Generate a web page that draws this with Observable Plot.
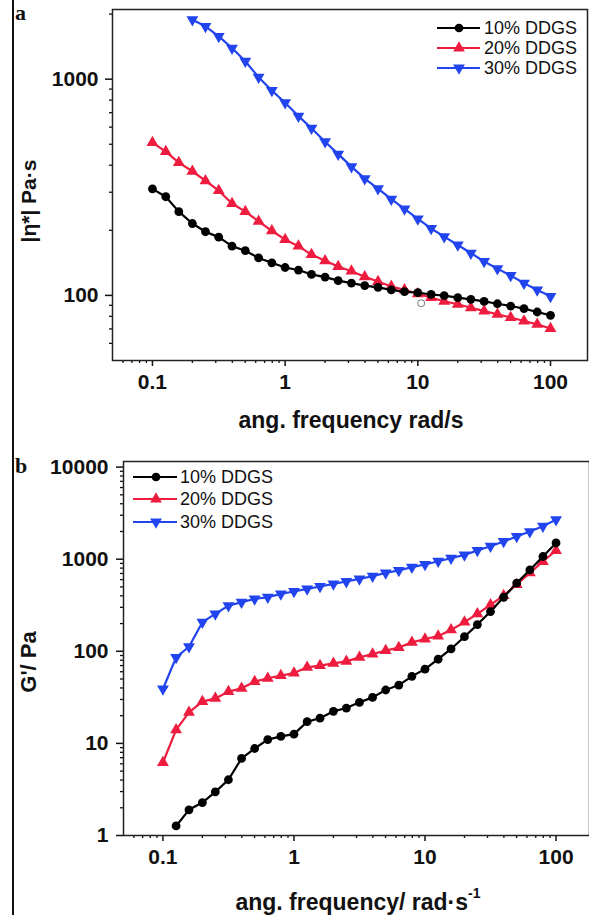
<!DOCTYPE html>
<html>
<head>
<meta charset="utf-8">
<script src="https://cdn.jsdelivr.net/npm/d3@7"></script>
<script src="https://cdn.jsdelivr.net/npm/@observablehq/plot@0.6"></script>
<style>
  body { margin: 0; background: #fff; }
  #wrap { position: relative; width: 589px; height: 915px; overflow: hidden; background: #fff; }
  #wrap svg.plot-svg { display: block; }
  #overlay { position: absolute; left: 0; top: 0; pointer-events: none; }
</style>
</head>
<body>
<div id="wrap"></div>
<script>
// ---------- data ----------
const freq = [0.1, 0.126, 0.158, 0.2, 0.251, 0.316, 0.398, 0.501, 0.631, 0.794,
              1, 1.26, 1.58, 2, 2.51, 3.16, 3.98, 5.01, 6.31, 7.94,
              10, 12.6, 15.8, 20, 25.1, 31.6, 39.8, 50.1, 63.1, 79.4, 100];
const seriesNames = ["10% DDGS", "20% DDGS", "30% DDGS"];
const seriesColors = ["#000000", "#ee1c3e", "#2244ee"];

// panel a: |eta*| (Pa·s)
const etaA10 = [311, 286, 244, 215, 197, 186, 169, 161, 149, 141.5,
                134.6, 131, 125, 121.5, 117, 114, 111, 109, 106, 104,
                103, 101, 99.7, 97.6, 95.9, 93.8, 91.5, 89.3, 86.9, 83.8, 80.9];
const etaA20 = [509, 462, 411, 375, 339, 305, 266, 244, 220, 199,
                181, 169, 154.5, 144.5, 136, 129.4, 122, 116, 110, 106,
                101.8, 97.6, 94, 91, 87.7, 84.6, 81.8, 79, 76.1, 73.5, 70.3];
const etaA30 = [null, null, null, 1884, 1755, 1578, 1393, 1210, 1021, 887,
                778, 675, 593, 514, 450, 394, 347, 312, 279, 251,
                226, 204, 187, 171, 157, 143.5, 133, 123.6, 114, 106, 99];
const strayPoint = [{f: 10.6, v: 92}];

// panel b: G' (Pa)
const gB10 = [null, 1.27, 1.9, 2.28, 2.98, 4.03, 6.87, 8.8, 11, 11.9,
              12.6, 17.2, 18.8, 22.3, 24.2, 27.9, 31.6, 38, 43, 53.5,
              64, 82, 106, 144, 195, 270, 386, 550, 765, 1070, 1500];
const gB20 = [6.2, 14, 21.7, 28.4, 30.8, 36.5, 39.6, 46.8, 51, 54.4,
              58, 67, 70, 74, 77.8, 86, 93.5, 101.7, 110, 125,
              136, 146, 171, 207, 255, 319, 403, 531, 710, 944, 1242];
const gB30 = [39, 86, 112, 207, 255, 313, 341, 371, 386, 420,
              446, 476, 505, 540, 572, 611, 653, 710, 754, 819,
              876, 951, 1025, 1114, 1242, 1384, 1556, 1763, 1995, 2278, 2690];

// ticks
const xTicks = [0.1, 1, 10, 100];
const xTickLabels = ["0.1", "1", "10", "100"];
const yTicksA = [100, 1000];
const yTickLabelsA = ["100", "1000"];
const yTicksB = [1, 10, 100, 1000, 10000];
const yTickLabelsB = ["1", "10", "100", "1000", "10000"];

// text
const panelLetters = ["a", "b"];
const yTitleA = "|\u03B7*| Pa\u00B7s";
const xTitleA = "ang. frequency rad/s";
const yTitleB = "G'/ Pa";
const xTitleB = "ang. frequency/ rad\u00B7s";
const xTitleBSup = "-1";

// ---------- helpers ----------
const rows = vals => freq.map((f, i) => ({f, v: vals[i]})).filter(d => d.v != null);
function minorTicks(lo, hi) {
  const out = [];
  for (let e = Math.floor(Math.log10(lo)); e <= Math.ceil(Math.log10(hi)); e++) {
    for (let k = 2; k <= 9; k++) {
      const t = k * Math.pow(10, e);
      if (t > lo * 1.001 && t < hi * 0.999) out.push(t);
    }
  }
  return out;
}
const fmt = (ticks, labels) => d => labels[ticks.indexOf(d)] ?? "";
const FONT = "'Liberation Sans', Arial, Helvetica, sans-serif";

function seriesMarks(data, color, kind) {
  const m = [Plot.line(data, {x: "f", y: "v", stroke: color, strokeWidth: 2.2})];
  if (kind === 0) m.push(Plot.dot(data, {x: "f", y: "v", r: 4.4, fill: color, stroke: "none", symbol: "circle"}));
  if (kind === 1) m.push(Plot.dot(data, {x: "f", y: "v", r: 4.4, fill: color, stroke: "none", symbol: "triangle"}));
  if (kind === 2) m.push(Plot.dot(data, {x: "f", y: "v", r: 4.4, fill: color, stroke: "none", symbol: "triangle", rotate: 180}));
  return m;
}

function axes(xDomain, yDomain, yTicks, yLabels, ySize, yPad) {
  return [
    Plot.axisX({ticks: minorTicks(xDomain[0], xDomain[1]), tickSize: 3, strokeWidth: 1.3, tickFormat: () => "", label: null}),
    Plot.axisX({ticks: xTicks, tickSize: 6, strokeWidth: 1.5, tickPadding: 8, tickFormat: fmt(xTicks, xTickLabels),
                fontSize: 21, fontWeight: "bold", fill: "#111", label: null}),
    Plot.axisY({ticks: minorTicks(yDomain[0], yDomain[1]), tickSize: 3, strokeWidth: 1.3, tickFormat: () => "", label: null}),
    Plot.axisY({ticks: yTicks, tickSize: ySize, strokeWidth: 1.5, tickPadding: yPad, tickFormat: fmt(yTicks, yLabels),
                fontSize: 21, fontWeight: "bold", fill: "#111", label: null}),
    Plot.frame({stroke: "#222", strokeWidth: 1.5})
  ];
}

const wrap = document.getElementById("wrap");

// ---------- panel a ----------
const xDomA = [0.05, 190], yDomA = [50, 2100];
const plotA = Plot.plot({
  width: 589, height: 450,
  marginLeft: 112, marginRight: 2, marginTop: 9, marginBottom: 90,
  style: {fontFamily: FONT, background: "white", color: "#111"},
  x: {type: "log", domain: xDomA},
  y: {type: "log", domain: yDomA},
  marks: [
    ...seriesMarks(rows(etaA30), seriesColors[2], 2),
    ...seriesMarks(rows(etaA20), seriesColors[1], 1),
    ...seriesMarks(rows(etaA10), seriesColors[0], 0),
    Plot.dot(strayPoint, {x: "f", y: "v", r: 3.5, fill: "white", stroke: "#777", strokeWidth: 1}),
    ...axes(xDomA, yDomA, yTicksA, yTickLabelsA, 7, 7)
  ]
});
wrap.appendChild(plotA);

// ---------- panel b ----------
const xDomB = [0.05, 180], yDomB = [1, 11500];
const plotB = Plot.plot({
  width: 589, height: 465,
  marginLeft: 123, marginRight: 0, marginTop: 11, marginBottom: 80,
  style: {fontFamily: FONT, background: "white", color: "#111"},
  x: {type: "log", domain: xDomB},
  y: {type: "log", domain: yDomB},
  marks: [
    ...seriesMarks(rows(gB30), seriesColors[2], 2),
    ...seriesMarks(rows(gB20), seriesColors[1], 1),
    ...seriesMarks(rows(gB10), seriesColors[0], 0),
    ...axes(xDomB, yDomB, yTicksB, yTickLabelsB, 7, 8)
  ]
});
wrap.appendChild(plotB);

// ---------- overlay: titles, legends, panel letters ----------
const ov = d3.select(wrap).append("svg").attr("id", "overlay")
  .attr("width", 589).attr("height", 915)
  .style("font-family", FONT);

ov.append("line").attr("x1", 13).attr("x2", 13).attr("y1", 0).attr("y2", 915)
  .attr("stroke", "#111").attr("stroke-width", 2);

const letterPos = [[15, 20], [15, 473]];
panelLetters.forEach((t, i) => {
  ov.append("text").attr("x", letterPos[i][0]).attr("y", letterPos[i][1])
    .attr("font-family", "'Liberation Serif', 'DejaVu Serif', serif")
    .attr("font-weight", "bold").attr("font-size", 22).attr("fill", "#111").text(t);
});

function yTitle(t, cx, cy, fs) {
  ov.append("text").attr("transform", `translate(${cx},${cy}) rotate(-90)`)
    .attr("text-anchor", "middle").attr("dominant-baseline", "central")
    .attr("font-weight", "bold").attr("font-size", fs).attr("fill", "#111").text(t);
}
yTitle(yTitleA, 28, 201, 21);
yTitle(yTitleB, 28, 662, 22);

ov.append("text").attr("x", 351).attr("y", 428).attr("text-anchor", "middle")
  .attr("font-weight", "bold").attr("font-size", 23).attr("fill", "#111").text(xTitleA);
const tb = ov.append("text").attr("x", 358).attr("y", 910).attr("text-anchor", "middle")
  .attr("font-weight", "bold").attr("font-size", 23).attr("fill", "#111");
tb.append("tspan").text(xTitleB);
tb.append("tspan").attr("dy", -12).attr("font-size", 14).text(xTitleBSup);

function legend(x0, x1, xm, xt, ys) {
  seriesNames.forEach((name, i) => {
    const y = ys[i], c = seriesColors[i];
    ov.append("line").attr("x1", x0).attr("x2", x1).attr("y1", y).attr("y2", y)
      .attr("stroke", c).attr("stroke-width", 2.2);
    const sym = i === 0 ? d3.symbolCircle : d3.symbolTriangle;
    ov.append("path").attr("d", d3.symbol(sym, 60)())
      .attr("transform", `translate(${xm},${y})` + (i === 2 ? " rotate(180)" : ""))
      .attr("fill", c);
    ov.append("text").attr("x", xt).attr("y", y).attr("dominant-baseline", "central")
      .attr("font-size", 18).attr("fill", "#111").text(name);
  });
}
legend(437, 480, 459, 484, [28, 48, 68]);
legend(133, 177, 156, 180, [477, 499, 522]);
</script>
</body>
</html>
